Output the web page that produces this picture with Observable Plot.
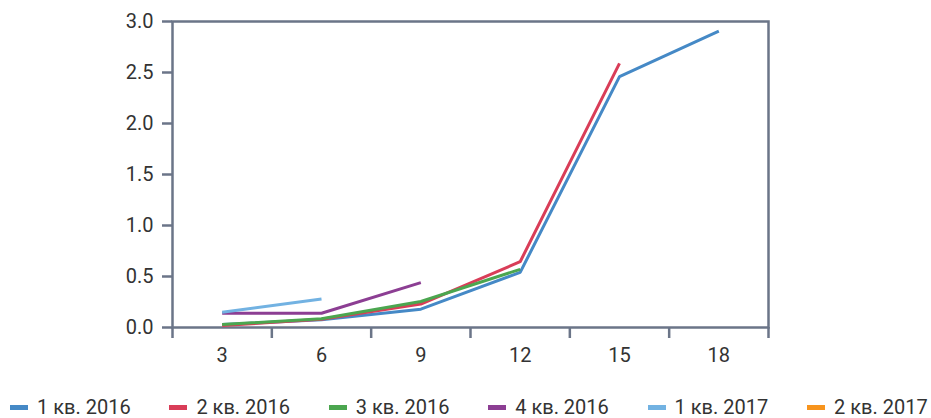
<!DOCTYPE html>
<html>
<head>
<meta charset="utf-8">
<script src="https://cdn.jsdelivr.net/npm/d3@7"></script>
<script src="https://cdn.jsdelivr.net/npm/@observablehq/plot@0.6"></script>
<style>
  html, body { margin: 0; padding: 0; background: #fff; }
  #chart svg { display: block; }
  .legend { position: relative; height: 28px; margin-top: 3px; font-family: Roboto, sans-serif; font-size: 20px; color: #333; }
  .legend .item { position: absolute; top: 0; display: flex; align-items: center; white-space: nowrap; line-height: 28px; }
  .legend .sw { width: 18px; height: 5px; margin-right: 9px; }
</style>
</head>
<body>
<div id="chart"></div>
<script>
const months = [3, 6, 9, 12, 15, 18];
const boundaries = [1.5, 4.5, 7.5, 10.5, 13.5, 16.5, 19.5];
const yTicks = [0, 0.5, 1, 1.5, 2, 2.5, 3];

const seriesNames = ["1 кв. 2016", "2 кв. 2016", "3 кв. 2016", "4 кв. 2016", "1 кв. 2017", "2 кв. 2017"];
const seriesColors = ["#4589c6", "#d93d58", "#4ba64f", "#8c3e93", "#72b2e2", "#f7941d"];

const q1_2016 = [0.03, 0.075, 0.18, 0.54, 2.46, 2.905];
const q2_2016 = [0.02, 0.08, 0.23, 0.645, 2.59];
const q3_2016 = [0.03, 0.085, 0.255, 0.57];
const q4_2016 = [0.14, 0.14, 0.44];
const q1_2017 = [0.15, 0.28];
const q2_2017 = [];

const seriesValues = [q1_2016, q2_2016, q3_2016, q4_2016, q1_2017, q2_2017];

const data = seriesValues.flatMap((vals, s) =>
  vals.map((v, i) => ({series: seriesNames[s], month: months[i], value: v}))
);

const frameColor = "#6b7588";

const chart = Plot.plot({
  width: 931,
  height: 390,
  marginLeft: 172,
  marginRight: 163,
  marginTop: 21,
  marginBottom: 63,
  style: {fontFamily: "Roboto, sans-serif", fontSize: "20px", color: "#333", background: "#fff"},
  x: {type: "linear", domain: [1.5, 19.5], axis: null},
  y: {domain: [0, 3], axis: null},
  color: {domain: seriesNames, range: seriesColors},
  marks: [
    Plot.axisY({ticks: yTicks, tickFormat: d3.format(".1f"), tickSize: 10, tickPadding: 9, stroke: frameColor, fill: "#333", strokeWidth: 2.5, label: null}),
    Plot.axisX({ticks: boundaries, tickFormat: () => "", tickSize: 11, stroke: frameColor, strokeWidth: 2.5, label: null}),
    Plot.axisX({ticks: months, tickSize: 0, tickPadding: 20, fill: "#333", label: null}),
    Plot.frame({stroke: frameColor, strokeWidth: 2.5}),
    Plot.line(data, {x: "month", y: "value", z: "series", stroke: "series", strokeWidth: 3, strokeLinejoin: "miter", strokeLinecap: "butt"})
  ]
});
document.getElementById("chart").appendChild(chart);

const legend = document.createElement("div");
legend.className = "legend";
seriesNames.forEach((name, i) => {
  const item = document.createElement("div");
  item.className = "item";
  item.style.left = (10 + 159.4 * i) + "px";
  const sw = document.createElement("span");
  sw.className = "sw";
  sw.style.background = seriesColors[i];
  const label = document.createElement("span");
  label.textContent = name;
  item.appendChild(sw);
  item.appendChild(label);
  legend.appendChild(item);
});
document.body.appendChild(legend);
</script>
</body>
</html>
